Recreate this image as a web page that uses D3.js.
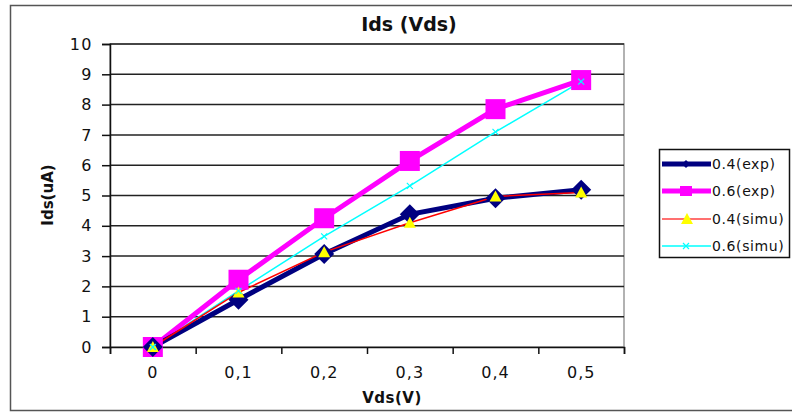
<!DOCTYPE html>
<html><head><meta charset="utf-8">
<script src="https://cdn.jsdelivr.net/npm/d3@7/dist/d3.min.js"></script>
<style>body{margin:0;background:#fff}svg{display:block;font-family:"DejaVu Sans",Arial,sans-serif}</style>
</head><body>
<svg id="c" width="792" height="412"></svg>
<script>
const categories = ["0","0,1","0,2","0,3","0,4","0,5"];
const yTicks = [0,1,2,3,4,5,6,7,8,9,10];
const exp04 = [0, 1.56, 3.07, 4.38, 4.91, 5.19];
const exp06 = [0, 2.22, 4.25, 6.14, 7.85, 8.81];
const simu04 = [0, 1.8, 3.13, 4.1, 4.97, 5.1];
const simu06 = [0, 1.85, 3.65, 5.32, 7.1, 8.76];
const seriesNames = ["0.4(exp)","0.6(exp)","0.4(simu)","0.6(simu)"];

const FONT = "DejaVu Sans, Arial, sans-serif";
const svg = d3.select("#c");
const L=110, R=624, T=44, B=347;
const x = d3.scaleBand().domain(categories).range([L,R]).padding(0);
const xe = d3.scaleLinear().domain([0,categories.length]).range([L,R]);
const y = d3.scaleLinear().domain([0,10]).range([B,T]);

// outer border
svg.append("rect").attr("x",10.5).attr("y",5.5).attr("width",790).attr("height",405)
  .attr("fill","#fff").attr("stroke","#555").attr("stroke-width",1.5);

// plot area border
svg.append("rect").attr("x",L).attr("y",T).attr("width",R-L).attr("height",B-T)
  .attr("fill","#fff").attr("stroke","#999").attr("stroke-width",1.5);

// grid
svg.append("g").selectAll("line").data(yTicks.filter(d=>d>0)).join("line")
  .attr("x1",L).attr("x2",R).attr("y1",d=>y(d)).attr("y2",d=>y(d))
  .attr("stroke","#222").attr("stroke-width",1.5);

// y axis
const ya = svg.append("g").attr("transform",`translate(${L},0)`)
  .call(d3.axisLeft(y).tickValues(yTicks).tickSize(8).tickPadding(9).tickFormat(d3.format("d")));
ya.select(".domain").attr("stroke","#111").attr("stroke-width",1.5);
ya.selectAll(".tick line").attr("stroke","#111").attr("stroke-width",1.5);
ya.selectAll("text").attr("font-size",16).attr("fill","#111").attr("font-family",FONT).attr("letter-spacing",1.5);

// x axis ticks at band edges
const xa = svg.append("g").attr("transform",`translate(0,${B})`)
  .call(d3.axisBottom(xe).tickValues(d3.range(0,categories.length+1)).tickSize(7).tickFormat(""));
xa.select(".domain").attr("stroke","#111").attr("stroke-width",1.5);
xa.selectAll(".tick line").attr("stroke","#111").attr("stroke-width",1.5);
// x labels
const xl = svg.append("g").attr("transform",`translate(0,${B})`)
  .call(d3.axisBottom(x).tickSize(0).tickPadding(20));
xl.select(".domain").remove();
xl.selectAll("text").attr("font-size",16).attr("fill","#111").attr("font-family",FONT).attr("letter-spacing",1);

const cx = c => x(c) + x.bandwidth()/2;
const line = d3.line().x((d,i)=>cx(categories[i])).y(d=>y(d));

// series lines
const g = svg.append("g");
g.append("path").datum(simu06).attr("d",line).attr("fill","none").attr("stroke","#00ffff").attr("stroke-width",1.5);
g.append("path").datum(exp06).attr("d",line).attr("fill","none").attr("stroke","#ff00ff").attr("stroke-width",5);
g.append("path").datum(exp04).attr("d",line).attr("fill","none").attr("stroke","#000080").attr("stroke-width",5);
g.append("path").datum(simu04).attr("d",line).attr("fill","none").attr("stroke","#ff0000").attr("stroke-width",1.5);

// markers
const diamond = s => `M0,${-s}L${s},0L0,${s}L${-s},0Z`;
g.append("g").selectAll("rect").data(exp06).join("rect")
  .attr("x",(d,i)=>cx(categories[i])-10).attr("y",d=>y(d)-10).attr("width",20).attr("height",20).attr("fill","#ff00ff");
g.append("g").selectAll("path").data(exp04).join("path")
  .attr("transform",(d,i)=>`translate(${cx(categories[i])},${y(d)})`).attr("d",diamond(10)).attr("fill","#000080");
g.append("g").selectAll("path").data(simu04).join("path")
  .attr("transform",(d,i)=>`translate(${cx(categories[i])},${y(d)})`).attr("d","M0,-6L6,5L-6,5Z").attr("fill","#ffff00");
g.append("g").selectAll("path").data(simu06).join("path")
  .attr("transform",(d,i)=>`translate(${cx(categories[i])},${y(d)})`).attr("d","M-3,-3L3,3M-3,3L3,-3").attr("stroke","#00ffff").attr("stroke-width",1.2).attr("fill","none");

// title
svg.append("text").attr("x",409).attr("y",31).attr("text-anchor","middle").attr("font-size",19).attr("font-weight","bold").attr("fill","#111").attr("font-family",FONT).text("Ids (Vds)");
// axis titles
svg.append("text").attr("x",392).attr("y",403).attr("text-anchor","middle").attr("font-size",15).attr("font-weight","bold").attr("fill","#111").attr("font-family",FONT).attr("letter-spacing",0.5).text("Vds(V)");
svg.append("text").attr("transform","translate(53,195) rotate(-90)").attr("text-anchor","middle").attr("font-size",15).attr("font-weight","bold").attr("fill","#111").attr("font-family",FONT).text("Ids(uA)");

// legend
const lg = svg.append("g");
lg.append("rect").attr("x",659.5).attr("y",149.5).attr("width",130).attr("height",108).attr("fill","#fff").attr("stroke","#111").attr("stroke-width",1.5);
const ly = [164,191,219,246];
const lstyle = [
  {c:"#000080",w:5},{c:"#ff00ff",w:5},{c:"#ff4040",w:1.5},{c:"#00ffff",w:1.5}
];
ly.forEach((yy,i)=>{
  lg.append("line").attr("x1",662).attr("x2",711).attr("y1",yy).attr("y2",yy).attr("stroke",lstyle[i].c).attr("stroke-width",lstyle[i].w);
  if(i===0) lg.append("path").attr("transform",`translate(686,${yy})`).attr("d",diamond(4)).attr("fill","#000080");
  if(i===1) lg.append("rect").attr("x",680).attr("y",yy-5).attr("width",12).attr("height",10).attr("fill","#ff00ff");
  if(i===2) lg.append("path").attr("transform",`translate(687,${yy})`).attr("d","M0,-6L6,5L-6,5Z").attr("fill","#ffff00");
  if(i===3) lg.append("path").attr("transform",`translate(686,${yy})`).attr("d","M-3,-3L3,3M-3,3L3,-3").attr("stroke","#00ffff").attr("stroke-width",1.2);
  lg.append("text").attr("x",712).attr("y",yy+5).attr("font-size",14).attr("fill","#111").attr("font-family",FONT).attr("letter-spacing",0.6).text(seriesNames[i]);
});
</script>
</body></html>
